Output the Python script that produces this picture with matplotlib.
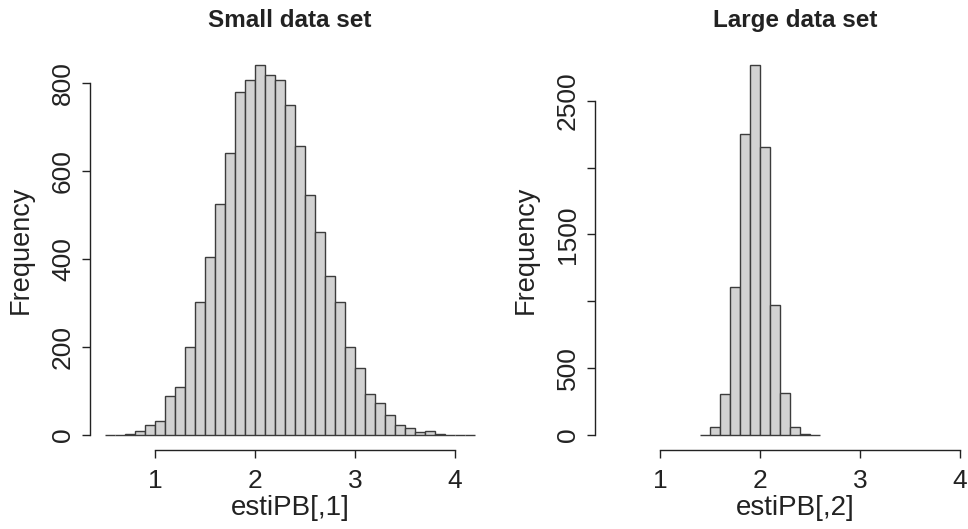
import numpy as np
import matplotlib
matplotlib.use('Agg')
import matplotlib.pyplot as plt

plt.rcParams['font.family'] = ['Liberation Sans', 'DejaVu Sans']

# bin edges (start, width) and counts
small_start = 0.5
small_counts = [0, 1, 2, 8, 23, 31, 89, 110, 199, 303, 404, 525, 641, 779, 807,
                840, 817, 805, 750, 657, 544, 460, 362, 303, 199, 152, 92, 72,
                46, 23, 17, 6, 10, 3, 1, 0, 1]
large_start = 1.4
large_counts = [2, 60, 305, 1107, 2250, 2770, 2155, 970, 315, 58, 6, 1]
bin_width = 0.1

titles = ['Small data set', 'Large data set']
xlabels = ['estiPB[,1]', 'estiPB[,2]']
xticks = [1, 2, 3, 4]
yticks_small = [0, 200, 400, 600, 800]
yticks_large = [0, 500, 1000, 1500, 2000, 2500]
yticklabels_large = ['0', '500', '', '1500', '', '2500']

W, H = 968, 529
fig = plt.figure(figsize=(W / 100, H / 100), dpi=100)

def px_axes(x0, x1, ytop, ybot):
    return fig.add_axes([x0 / W, 1 - ybot / H, (x1 - x0) / W, (ybot - ytop) / H])

ax1 = px_axes(90, 490, 50, 450)
ax2 = px_axes(595, 995, 50, 450)

panels = [
    (ax1, small_start, small_counts, yticks_small, None, (-34, 874)),
    (ax2, large_start, large_counts, yticks_large, yticklabels_large, (-112.5, 2880)),
]

for i, (ax, start, counts, yt, ytl, ylim) in enumerate(panels):
    counts = np.array(counts)
    left = start + bin_width * np.arange(len(counts))
    ax.bar(left, counts, width=bin_width, align='edge', color='#d2d2d2',
           edgecolor='#3c3c3c', linewidth=1.0)
    ax.set_xlim(0.35, 4.35)
    ax.set_ylim(*ylim)
    for s in ['top', 'right']:
        ax.spines[s].set_visible(False)
    ax.spines['left'].set_bounds(yt[0], yt[-1])
    ax.spines['bottom'].set_bounds(xticks[0], xticks[-1])
    for s in ['left', 'bottom']:
        ax.spines[s].set_linewidth(1.0)
        ax.spines[s].set_color('#222222')
    ax.set_xticks(xticks)
    ax.set_yticks(yt)
    if ytl is not None:
        ax.set_yticklabels(ytl)
    ax.tick_params(direction='out', length=5.8, width=1.0, color='#222222',
                   labelsize=19, labelcolor='#222222')
    ax.tick_params(axis='x', pad=8)
    ax.tick_params(axis='y', pad=5)
    for lab in ax.get_yticklabels():
        lab.set_rotation(90)
        lab.set_va('center')
    ax.set_title(titles[i], fontsize=17.5, fontweight='bold', color='#222222', pad=16.5)
    ax.set_xlabel(xlabels[i], fontsize=20, color='#222222')
    ax.set_ylabel('Frequency', fontsize=19.5, color='#222222')
    ax.xaxis.set_label_coords(0.5, -0.145)
    ax.xaxis.label.set_va('center')
    ax.yaxis.set_label_coords(-0.1725, 0.5)
    ax.yaxis.label.set_va('center')

fig.savefig('out.png', dpi=100)
